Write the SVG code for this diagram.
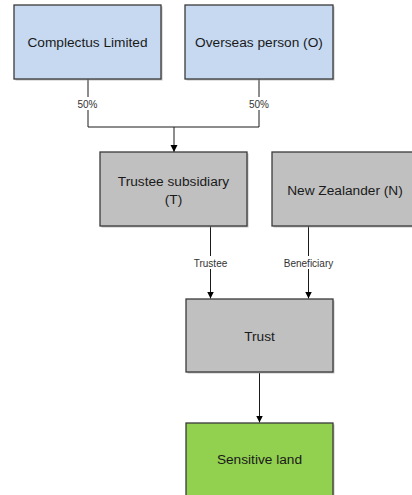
<svg xmlns="http://www.w3.org/2000/svg" width="412" height="495" viewBox="0 0 412 495">
  <style>
    .box { stroke: #3a3a3a; stroke-width: 1.3; }
    .shadow { fill: #9a9a9a; opacity: 0.6; }
    .blue { fill: #c6d9f1; }
    .grey { fill: #c0c0c0; }
    .green { fill: #92d050; }
    .label { font-family: "Liberation Sans", Arial, sans-serif; font-size: 13.7px; fill: #1a1a1a; text-anchor: middle; }
    .edge { fill: none; stroke: #1a1a1a; stroke-width: 1; }
    .elabel { font-family: "Liberation Sans", Arial, sans-serif; font-size: 10px; fill: #333; text-anchor: middle; }
    .lbg { fill: #ffffff; }
  </style>
  <defs>
    <marker id="arrow" viewBox="0 0 10 10" refX="10" refY="5" markerWidth="7" markerHeight="8" markerUnits="userSpaceOnUse" orient="auto">
      <path d="M0,0 L10,5 L0,10 Z" fill="#000"/>
    </marker>
  </defs>
  <rect width="412" height="495" fill="#ffffff"/>

  <!-- connectors -->
  <g id="connectors">
    <path class="edge" d="M88,79 V127 H259 V79"/>
    <path class="edge" d="M174,127 V152" marker-end="url(#arrow)"/>
    <path class="edge" d="M210.5,226 V298.5" marker-end="url(#arrow)"/>
    <path class="edge" d="M308.5,226 V298.5" marker-end="url(#arrow)"/>
    <path class="edge" d="M259.5,373 V422.5" marker-end="url(#arrow)"/>
    <rect class="lbg" x="75" y="97" width="26" height="13"/>
    <text class="elabel" x="87.5" y="107.5">50%</text>
    <rect class="lbg" x="245" y="97" width="28" height="13"/>
    <text class="elabel" x="259" y="107.5">50%</text>
    <rect class="lbg" x="192" y="256" width="37" height="13"/>
    <text class="elabel" x="210.5" y="266.5">Trustee</text>
    <rect class="lbg" x="282" y="256" width="53" height="13"/>
    <text class="elabel" x="308.5" y="266.5">Beneficiary</text>
  </g>

  <g id="complectus">
    <rect class="shadow" x="15.5" y="6.5" width="147" height="74"/>
    <rect class="box blue" x="14" y="5" width="147" height="74"/>
    <text class="label" x="87.5" y="46.5">Complectus Limited</text>
  </g>

  <g id="overseas">
    <rect class="shadow" x="186.5" y="6.5" width="148" height="74"/>
    <rect class="box blue" x="185" y="5" width="148" height="74"/>
    <text class="label" x="259" y="46.5">Overseas person (O)</text>
  </g>

  <g id="trustee-subsidiary">
    <rect class="shadow" x="101.5" y="153.5" width="147" height="74"/>
    <rect class="box grey" x="100" y="152" width="147" height="74"/>
    <text class="label" x="173.5" y="185.5">Trustee subsidiary</text>
    <text class="label" x="173.5" y="204">(T)</text>
  </g>

  <g id="new-zealander">
    <rect class="shadow" x="273.5" y="153.5" width="150" height="74"/>
    <rect class="box grey" x="272" y="152" width="150" height="74"/>
    <text class="label" x="345" y="195">New Zealander (N)</text>
  </g>

  <g id="trust">
    <rect class="shadow" x="187.5" y="300.5" width="147" height="73"/>
    <rect class="box grey" x="186" y="299" width="147" height="73"/>
    <text class="label" x="259.5" y="341">Trust</text>
  </g>

  <g id="sensitive-land">
    <rect class="shadow" x="187.5" y="424.5" width="147" height="80"/>
    <rect class="box green" x="186" y="423" width="147" height="80"/>
    <text class="label" x="259.5" y="464">Sensitive land</text>
  </g>
</svg>
